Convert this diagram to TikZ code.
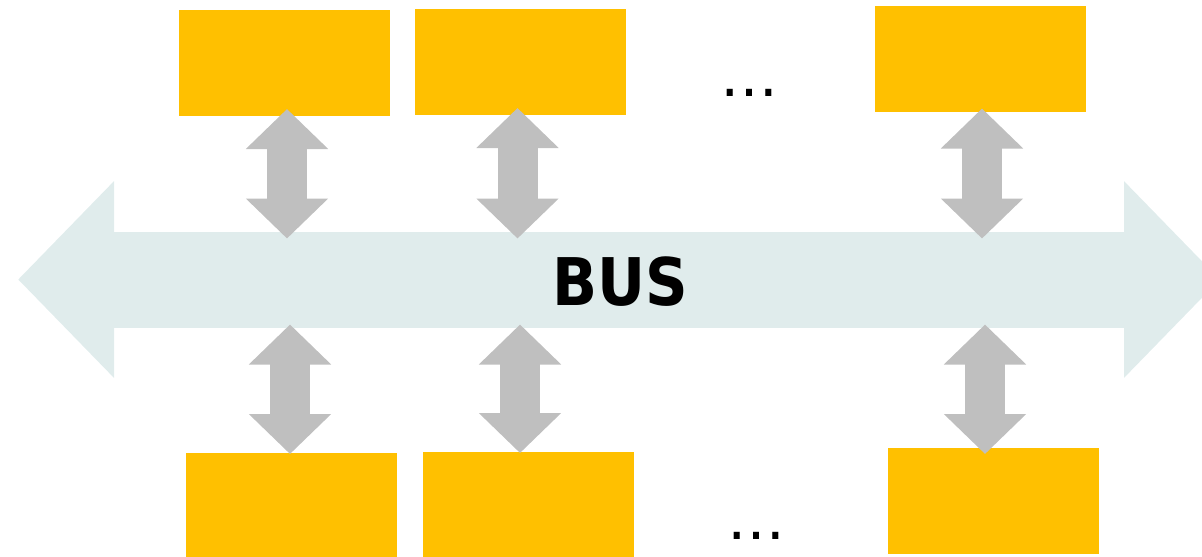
\documentclass[tikz,border=0pt]{standalone}
\usepackage{fontspec}
\newfontfamily\busfont{DejaVu Sans Condensed Bold}
\newfontfamily\dotfont{DejaVu Sans}
\usetikzlibrary{arrows.meta,calc}
\definecolor{boxyellow}{HTML}{FFC000}
\definecolor{linkgray}{HTML}{BFBFBF}
\definecolor{busblue}{HTML}{E0ECEC}
\tikzset{
	unit/.style={fill=boxyellow,minimum width=2.11cm,minimum height=1.06cm,inner sep=0,outer sep=0},
	bus/.style={busblue,line width=0.96cm,{Triangle[width=1.91cm,length=0.96cm]}-{Triangle[width=1.91cm,length=0.96cm]}},
	link/.style={linkgray,line width=0.4cm,{Triangle[width=0.8cm,length=0.4cm]}-{Triangle[width=0.8cm,length=0.4cm]}},
	bustext/.style={font=\busfont\fontsize{18.7}{22}\selectfont,inner sep=0},
	more/.style={font=\dotfont\fontsize{16.5}{19}\selectfont,inner sep=0,anchor=base}
}
\begin{document}
\begin{tikzpicture}
		\useasboundingbox (0,0) rectangle (12.02,5.56);
		% units above and below the bus
		\node[unit] (t1) at (2.845,4.93){};
		\node[unit] (t2) at (5.205,4.94){};
		\node[unit] (t3) at (9.805,4.975){};
		\node[unit] (b1) at (2.915,0.50){};
		\node[unit] (b2) at (5.285,0.51){};
		\node[unit] (b3) at (9.935,0.55){};
		% the bus
		\coordinate (busL) at (0.18,2.765);
		\coordinate (busR) at (12.20,2.765);
		\draw[bus] (busL)--(busR);
		% links
		\foreach \n/\dx/\dy in {t1/0.025/0.07,t2/-0.03/0.07,t3/0.015/0.03}
			\draw[link] ($(\n.south)+(\dx,\dy)$)--($(\n.south |- busL)+(\dx,0.41)$);
		\foreach \n/\dx/\dy in {b1/-0.015/-0.01,b2/-0.085/-0.01,b3/-0.085/-0.06}
			\draw[link] ($(\n.north |- busL)+(\dx,-0.45)$)--($(\n.north)+(\dx,\dy)$);
		\node[bustext] (bus) at (6.20,2.74){BUS};
		\node[more] (dotsT) at (7.49,4.60){…};
		\node[more] (dotsB) at (7.56,0.17){…};
	\end{tikzpicture}
\end{document}
